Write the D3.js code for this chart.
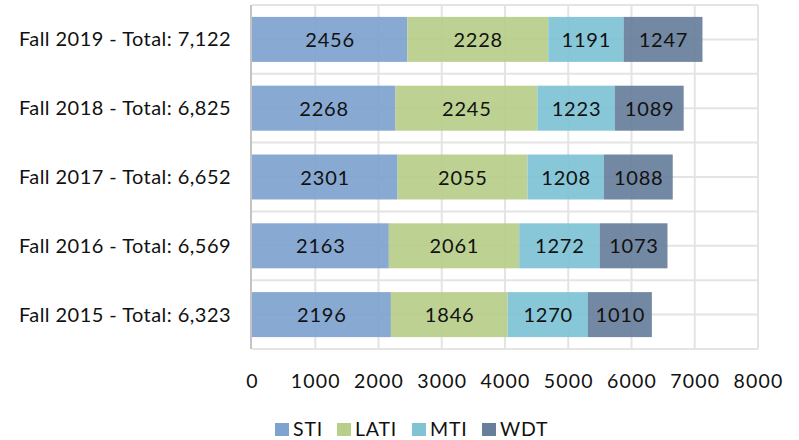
<!DOCTYPE html>
<html>
<head>
<meta charset="utf-8">
<script src="https://cdn.jsdelivr.net/npm/d3@7"></script>
<style>
  body { margin: 0; background: #fff; }
  svg { display: block; font-family: Lato, "Open Sans", sans-serif; }
</style>
</head>
<body>
<svg id="chart"></svg>
<script>
// data
const categories = ["Fall 2019", "Fall 2018", "Fall 2017", "Fall 2016", "Fall 2015"]
const totals = ["7,122", "6,825", "6,652", "6,569", "6,323"]
const seriesNames = ["STI", "LATI", "MTI", "WDT"]
const sti = [2456, 2268, 2301, 2163, 2196]
const lati = [2228, 2245, 2055, 2061, 1846]
const mti = [1191, 1223, 1208, 1272, 1270]
const wdt = [1247, 1089, 1088, 1073, 1010]
const xTicks = [0, 1000, 2000, 3000, 4000, 5000, 6000, 7000, 8000]
const colors = ["#7fa3cf", "#b8cf8a", "#7fc3d5", "#687f9b"]

const width = 799, height = 440
const plotLeft = 252, plotRight = 758, plotTop = 5, plotBottom = 349

const svg = d3.select("#chart").attr("width", width).attr("height", height)

const x = d3.scaleLinear().domain([0, 8000]).range([plotLeft, plotRight])
const y = d3.scaleBand().domain(categories).range([plotTop, plotBottom])
  .paddingInner(0.346).paddingOuter(0.173)

// rows for stacking
const rows = categories.map((c, i) => ({ cat: c, STI: sti[i], LATI: lati[i], MTI: mti[i], WDT: wdt[i] }))
const stacked = d3.stack().keys(seriesNames)(rows)

// grid
const grid = svg.append("g").attr("stroke", "#e4e4e4").attr("stroke-width", 2)
grid.selectAll("line.v").data(xTicks.slice(1)).enter().append("line")
  .attr("x1", d => x(d)).attr("x2", d => x(d))
  .attr("y1", plotTop).attr("y2", plotBottom)
const hLines = []
categories.forEach(c => {
  hLines.push(y(c) - y.step() * y.paddingInner() / 2)
  hLines.push(y(c) + y.bandwidth() / 2)
})
hLines.push(plotBottom)
grid.selectAll("line.h").data(hLines).enter().append("line")
  .attr("x1", plotLeft).attr("x2", plotRight)
  .attr("y1", d => d).attr("y2", d => d)

// bars
const layer = svg.selectAll("g.layer").data(stacked).enter().append("g")
  .attr("fill", (d, i) => colors[i])
layer.selectAll("rect").data(d => d).enter().append("rect")
  .attr("x", d => x(d[0]))
  .attr("width", d => x(d[1]) - x(d[0]))
  .attr("y", d => y(d.data.cat))
  .attr("height", y.bandwidth())
  .attr("opacity", 0.93)

layer.selectAll("text").data(d => d).enter().append("text")
  .attr("x", d => (x(d[0]) + x(d[1])) / 2 + 0.4)
  .attr("y", d => y(d.data.cat) + y.bandwidth() / 2 + 7.5)
  .attr("text-anchor", "middle")
  .attr("fill", "#111")
  .attr("font-size", "20px")
  .attr("letter-spacing", "0.8px")
  .text(d => d[1] - d[0])

// left axis line
svg.append("line")
  .attr("x1", plotLeft - 1).attr("x2", plotLeft - 1)
  .attr("y1", plotTop).attr("y2", plotBottom)
  .attr("stroke", "#c4c4c4").attr("stroke-width", 2)

// category labels
svg.selectAll("text.cat").data(categories).enter().append("text")
  .attr("class", "cat")
  .attr("x", 231)
  .attr("y", d => y(d) + y.bandwidth() / 2 + 7)
  .attr("text-anchor", "end")
  .attr("font-size", "20px")
  .attr("letter-spacing", "0.45px")
  .attr("fill", "#111")
  .text((d, i) => d + " - Total: " + totals[i])

// x axis labels
svg.selectAll("text.tick").data(xTicks).enter().append("text")
  .attr("x", d => x(d) + 0.6)
  .attr("y", 388)
  .attr("text-anchor", "middle")
  .attr("font-size", "19.5px")
  .attr("letter-spacing", "1.2px")
  .attr("fill", "#111")
  .text(d => d)

// legend
const legendX = [275, 337, 412, 482]
const legend = svg.append("g")
seriesNames.forEach((name, i) => {
  legend.append("rect").attr("x", legendX[i]).attr("y", 423).attr("width", 14).attr("height", 13)
    .attr("fill", colors[i])
  legend.append("text").attr("x", legendX[i] + 18).attr("y", 436)
    .attr("font-size", "19.5px").attr("letter-spacing", "0.8px")
    .attr("fill", "#111").text(name)
})
</script>
</body>
</html>
